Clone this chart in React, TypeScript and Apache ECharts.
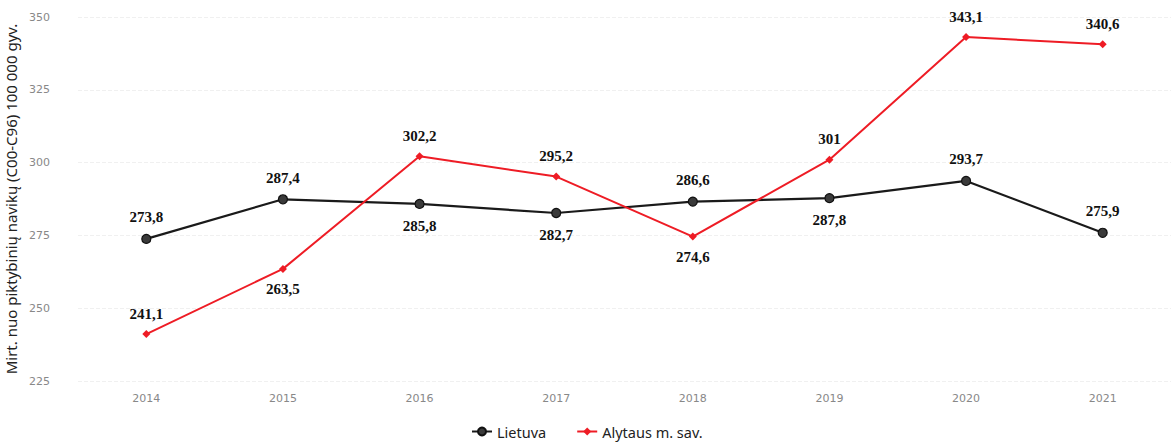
import React, { useEffect, useRef } from "react";
import * as echarts from "echarts";

const years = ["2014", "2015", "2016", "2017", "2018", "2019", "2020", "2021"];
const lietuva = [273.8, 287.4, 285.8, 282.7, 286.6, 287.8, 293.7, 275.9];
const alytus = [241.1, 263.5, 302.2, 295.2, 274.6, 301, 343.1, 340.6];
// where each value label sits relative to its point
const lietuvaLabelPos = ["top", "top", "bottom", "bottom", "top", "bottom", "top", "top"];
const alytusLabelPos = ["top", "bottom", "top", "top", "bottom", "top", "top", "top"];
const yTicks = { min: 225, max: 350, interval: 25 };

const fmt = (v: number) => String(v).replace(".", ",");

const labelStyle = {
  show: true,
  fontFamily: "Liberation Serif",
  fontWeight: "bold" as const,
  fontSize: 15,
  color: "#111",
  distance: 9,
  formatter: (p: any) => fmt(p.value),
};

export default function App() {
  const ref = useRef<HTMLDivElement>(null);

  useEffect(() => {
    document.body.style.margin = "0";
    const chart = echarts.init(ref.current!, null, { renderer: "svg" });
    chart.setOption({
      animation: false,
      backgroundColor: "#fff",
      grid: { left: 78, right: 3, top: 17, bottom: 64, outerBoundsMode: "none" },
      legend: {
        bottom: 1,
        left: 466,
        itemWidth: 20,
        itemHeight: 10,
        itemGap: 30,
        textStyle: { fontFamily: "Noto Sans", fontSize: 14.5, color: "#222" },
        data: ["Lietuva", "Alytaus m. sav."],
      },
      xAxis: {
        type: "category",
        data: years,
        boundaryGap: true,
        axisLine: { show: false },
        axisTick: { show: false },
        axisLabel: { color: "#888", fontFamily: "DejaVu Sans", fontSize: 11, margin: 12 },
      },
      yAxis: {
        type: "value",
        min: yTicks.min,
        max: yTicks.max,
        interval: yTicks.interval,
        name: "Mirt. nuo piktybinių navikų (C00-C96) 100 000 gyv.",
        nameLocation: "middle",
        nameGap: 54,
        nameTextStyle: { fontFamily: "Noto Sans", fontSize: 15, color: "#222" },
        axisLabel: { color: "#888", fontFamily: "DejaVu Sans", fontSize: 11, margin: 28 },
        splitLine: { lineStyle: { color: "#f0f0f0", type: "dashed" } },
      },
      series: [
        {
          name: "Lietuva",
          type: "line",
          data: lietuva.map((v, i) => ({ value: v, label: { position: lietuvaLabelPos[i] } })),
          symbol: "circle",
          symbolSize: 9,
          itemStyle: { color: "#3a3a3a", borderColor: "#111", borderWidth: 1.2 },
          lineStyle: { color: "#1a1a1a", width: 2.2 },
          label: labelStyle,
          z: 2,
        },
        {
          name: "Alytaus m. sav.",
          type: "line",
          data: alytus.map((v, i) => ({ value: v, label: { position: alytusLabelPos[i] } })),
          symbol: "diamond",
          symbolSize: 8,
          itemStyle: { color: "#ee1c25" },
          lineStyle: { color: "#ee1c25", width: 2 },
          label: labelStyle,
          z: 3,
        },
      ],
    });
    return () => chart.dispose();
  }, []);

  return <div ref={ref} style={{ width: 1174, height: 445 }} />;
}
